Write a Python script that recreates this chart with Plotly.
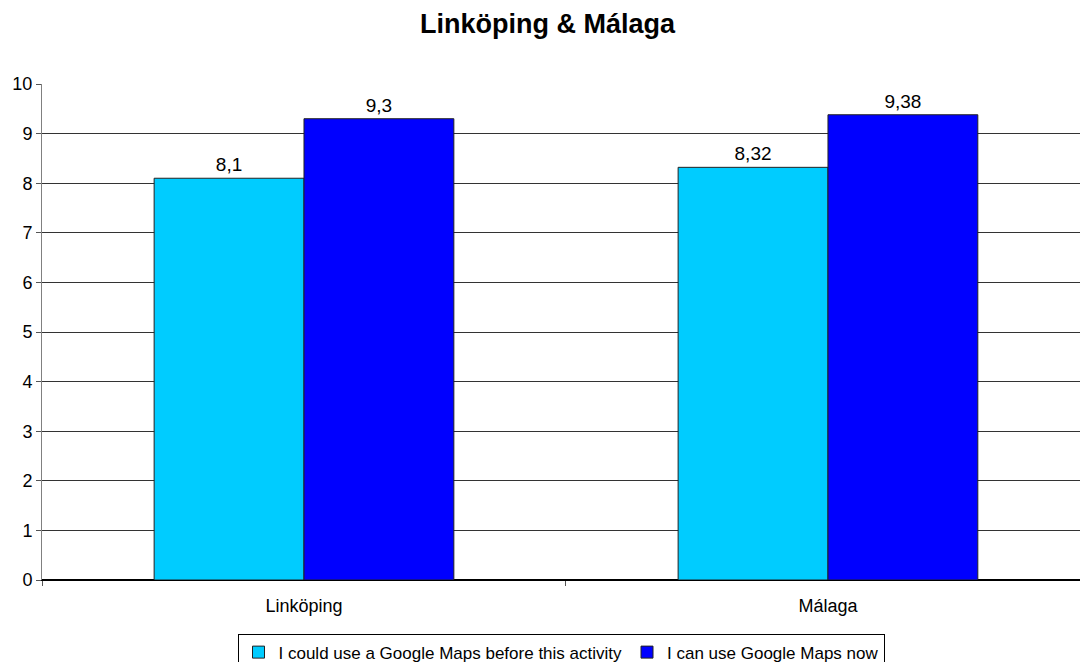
import plotly.graph_objects as go

# data
cities = ["Linköping", "Málaga"]
before_vals = [8.1, 8.32]
now_vals = [9.3, 9.38]
before_name = "I could use a Google Maps before this activity"
now_name = "I can use Google Maps now"

fig = go.Figure()

fig.add_trace(go.Bar(
    x=cities, y=before_vals, name=before_name,
    marker=dict(color="#00CCFF", line=dict(color="#222222", width=1)),
    texttemplate="%{y}", textposition="outside",
    textfont=dict(size=19, color="black"), cliponaxis=False,
))
fig.add_trace(go.Bar(
    x=cities, y=now_vals, name=now_name,
    marker=dict(color="#0000FF", line=dict(color="#222222", width=1)),
    texttemplate="%{y}", textposition="outside",
    textfont=dict(size=19, color="black"), cliponaxis=False,
))

fig.update_layout(
    width=1080, height=662,
    font=dict(family="Arial, Liberation Sans, sans-serif", color="black"),
    title=dict(text="<b>Linköping & Málaga</b>", x=0.507, xanchor="center",
               y=0.965, yanchor="middle", font=dict(size=27)),
    barmode="group", bargap=0.428, bargroupgap=0,
    separators=",.",
    plot_bgcolor="white", paper_bgcolor="white",
    margin=dict(l=42, r=0, t=84, b=82, autoexpand=False),
    legend=dict(orientation="h", x=0.5, xanchor="center", y=-0.108, yanchor="top",
                bordercolor="black", borderwidth=1, font=dict(size=17),
                itemwidth=30, tracegroupgap=0),
    uniformtext=dict(minsize=19, mode="show"),
)

fig.update_xaxes(
    type="category", range=[-0.5, 1.481], automargin=False,
    showline=True, linecolor="black", linewidth=1,
    ticks="outside", tickson="boundaries", ticklen=5, tickcolor="#555555",
    ticklabelstandoff=9,
    tickfont=dict(size=18), showgrid=False,
)
fig.update_yaxes(
    range=[0, 10], dtick=1, automargin=False,
    showline=True, linecolor="#808080", linewidth=1,
    ticks="outside", ticklen=5, tickcolor="#555555",
    tickfont=dict(size=18),
    showgrid=True, gridcolor="#333333", gridwidth=1,
    zeroline=True, zerolinecolor="black",
)

# drop the page's default body margin so the figure sits at the window's corner
fig.write_html("out.html", config={"displayModeBar": False},
               post_script="document.body.style.margin='0';")
